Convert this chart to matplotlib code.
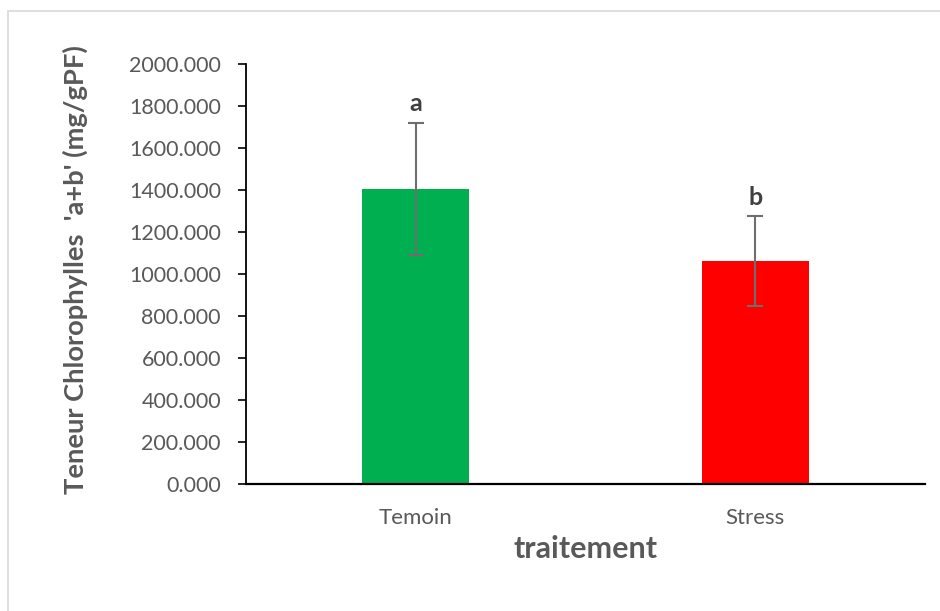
import matplotlib.pyplot as plt
from matplotlib.patches import Rectangle

categories = ["Temoin", "Stress"]
means = [1405, 1062]
errors = [316, 214]
letters = ["a", "b"]
colors = ["#00B050", "#FF0000"]
yticks = [0, 200, 400, 600, 800, 1000, 1200, 1400, 1600, 1800, 2000]

plt.rcParams["font.family"] = ["Lato", "DejaVu Sans"]
text_color = "#595959"

fig = plt.figure(figsize=(9.4, 6.11), dpi=100)
W, H = 940, 611

# chart-area border
fig.patches.append(Rectangle((8 / W, -0.01), 1.0, 1 - 11 / H + 0.01,
                             transform=fig.transFigure, fill=False,
                             edgecolor="#D9D9D9", linewidth=1.2))

ax = fig.add_axes([246 / W, 1 - 484 / H, (925 - 246) / W, (484 - 64) / H])

x = list(range(len(categories)))
ax.bar(x, means, width=0.316, color=colors, zorder=2)
ax.errorbar(x, means, yerr=errors, fmt="none", ecolor="#6E6E6E",
            elinewidth=1.5, capsize=6, capthick=1.5, zorder=3)
for xi, m, e, lab in zip(x, means, errors, letters):
    ax.text(xi, m + e + 35, lab, ha="center", va="bottom",
            fontsize=18, fontweight="bold", color="#404040")

ax.set_xlim(-0.5, len(categories) - 0.5)
ax.set_ylim(0, 2000)
ax.set_yticks(yticks)
ax.set_yticklabels([f"{v:.3f}" for v in yticks], fontsize=15.5, color=text_color)
ax.set_xticks(x)
ax.set_xticklabels(categories, fontsize=16, color=text_color)
ax.tick_params(axis="x", length=0, pad=17)
ax.tick_params(axis="y", length=6, width=1.2, direction="out", pad=12, color="black")

for s in ["top", "right"]:
    ax.spines[s].set_visible(False)
ax.spines["left"].set_linewidth(1.3)
ax.spines["bottom"].set_linewidth(1.6)

ax.set_xlabel("traitement", fontsize=22, fontweight="bold", color=text_color, labelpad=5)
fig.text(75 / W, 1 - 270 / H, "Teneur Chlorophylles  'a+b' (mg/gPF)",
         rotation=90, ha="center", va="center",
         fontsize=19.7, fontweight="bold", color=text_color)

fig.savefig("out.png", dpi=100)
